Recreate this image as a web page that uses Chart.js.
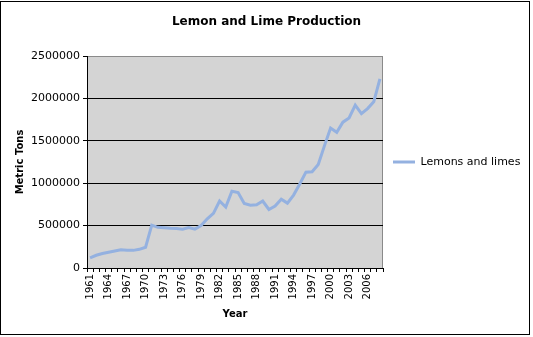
<!DOCTYPE html>
<html>
<head>
<meta charset="utf-8">
<script src="https://cdn.jsdelivr.net/npm/chart.js@4/dist/chart.umd.min.js"></script>
<style>
  html, body { margin: 0; padding: 0; background: #ffffff; }
  #wrap { width: 533px; height: 337px; position: relative; }
</style>
</head>
<body>
<div id="wrap"><canvas id="chart" width="533" height="337"></canvas></div>
<script>
// Annual lemon and lime production, metric tons
const years = [
  '1961','1962','1963','1964','1965','1966','1967','1968','1969','1970',
  '1971','1972','1973','1974','1975','1976','1977','1978','1979','1980',
  '1981','1982','1983','1984','1985','1986','1987','1988','1989','1990',
  '1991','1992','1993','1994','1995','1996','1997','1998','1999','2000',
  '2001','2002','2003','2004','2005','2006','2007','2008'
];
const lemonsAndLimes = [
  120000, 150000, 170000, 185000, 200000, 215000, 210000, 208000, 220000, 245000,
  505000, 480000, 475000, 468000, 465000, 458000, 478000, 458000, 500000, 580000,
  645000, 790000, 718000, 905000, 890000, 760000, 740000, 745000, 790000, 690000,
  730000, 812000, 765000, 860000, 990000, 1130000, 1135000, 1220000, 1440000, 1650000,
  1600000, 1720000, 1770000, 1920000, 1820000, 1880000, 1960000, 2230000
];
const yearTicks = ['1961','1964','1967','1970','1973','1976','1979','1982','1985',
  '1988','1991','1994','1997','2000','2003','2006'];
const valueTicks = [0, 500000, 1000000, 1500000, 2000000, 2500000];

const FONT = "'DejaVu Sans', Verdana, sans-serif";
const LEGEND_WIDTH = 150;

// Gray plot background, gray plot frame and the outer chart frame
const framePlugin = {
  id: 'frames',
  beforeLayout(chart) {
    // reserve a fixed-width column on the right for the legend
    const lg = chart.legend;
    if (lg && !lg._fixedWidth) {
      const fit = lg.fit.bind(lg);
      lg.fit = function () {
        fit();
        this.width = LEGEND_WIDTH;
      };
      lg._fixedWidth = true;
    }
  },
  beforeDraw(chart) {
    const { ctx, chartArea: a } = chart;
    ctx.save();
    ctx.fillStyle = '#ffffff';
    ctx.fillRect(0, 0, chart.width, chart.height);
    ctx.fillStyle = '#d4d4d4';
    ctx.fillRect(a.left, a.top, a.right - a.left, a.bottom - a.top);
    ctx.strokeStyle = '#8a8a8a';
    ctx.lineWidth = 1;
    ctx.strokeRect(Math.round(a.left) + 0.5, Math.round(a.top) + 0.5,
      Math.round(a.right - a.left) - 1, Math.round(a.bottom - a.top));
    ctx.restore();
  },
  afterDraw(chart) {
    const { ctx } = chart;
    ctx.save();
    ctx.strokeStyle = '#000000';
    ctx.lineWidth = 1;
    ctx.strokeRect(0.5, 1.5, 529, 333);
    ctx.restore();
  }
};

new Chart(document.getElementById('chart'), {
  type: 'line',
  data: {
    labels: years,
    datasets: [{
      label: 'Lemons and limes',
      data: lemonsAndLimes,
      borderColor: 'rgb(148,177,224)',
      backgroundColor: 'rgb(148,177,224)',
      borderWidth: 3,
      pointRadius: 0,
      tension: 0,
      fill: false
    }]
  },
  options: {
    responsive: false,
    animation: false,
    devicePixelRatio: 1,
    layout: { padding: { left: 0, right: 0, top: 0, bottom: 0 } },
    plugins: {
      title: {
        display: true,
        text: 'Lemon and Lime Production',
        color: '#000000',
        font: { family: FONT, size: 12, weight: 'bold' },
        padding: { top: 14.5, bottom: 27.1 }
      },
      legend: {
        position: 'right',
        fullSize: false,
        labels: {
          color: '#000000',
          font: { family: FONT, size: 11 },
          usePointStyle: true,
          pointStyle: 'line',
          pointStyleWidth: 22,
          padding: 10
        }
      },
      tooltip: { enabled: false }
    },
    scales: {
      x: {
        type: 'category',
        offset: true,
        grid: {
          offset: true,
          drawOnChartArea: false,
          drawTicks: true,
          tickLength: 4,
          tickColor: '#000000'
        },
        border: { display: true, color: '#000000', width: 1 },
        ticks: {
          autoSkip: false,
          minRotation: 90,
          maxRotation: 90,
          padding: 2,
          color: '#000000',
          font: { family: FONT, size: 10 },
          callback(value) {
            const lbl = this.getLabelForValue(value);
            return yearTicks.includes(lbl) ? lbl : '';
          }
        },
        title: {
          display: true,
          text: 'Year',
          color: '#000000',
          font: { family: FONT, size: 10, weight: 'bold' },
          padding: { top: 0, bottom: 17 }
        },
        afterFit(scale) { scale.height = 69; }
      },
      y: {
        min: 0,
        max: 2500000,
        afterBuildTicks(scale) {
          scale.ticks = valueTicks.map(v => ({ value: v }));
        },
        grid: {
          color(ctx) {
            return ctx.tick && ctx.tick.value === 2500000 ? 'rgba(0,0,0,0)' : '#000000';
          },
          lineWidth: 1,
          drawTicks: true,
          tickLength: 4,
          tickColor: '#000000'
        },
        border: { display: true, color: '#000000', width: 1 },
        ticks: {
          padding: 3,
          color: '#000000',
          font: { family: FONT, size: 11 },
          callback(value) { return String(value); }
        },
        title: {
          display: true,
          text: 'Metric Tons',
          color: '#000000',
          font: { family: FONT, size: 10, weight: 'bold' },
          padding: { top: 14, bottom: 0 }
        },
        afterFit(scale) { scale.width = 87; }
      }
    }
  },
  plugins: [framePlugin]
});
</script>
</body>
</html>
